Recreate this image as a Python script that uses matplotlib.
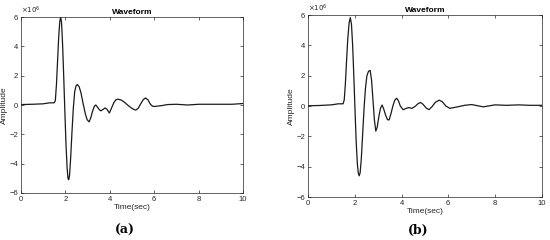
import matplotlib
matplotlib.use("Agg")
import matplotlib.pyplot as plt

plt.rcParams['font.family'] = ['Liberation Sans', 'DejaVu Sans']

# Panel (a): time (s) and amplitude (x1e6)
time_a = [0, 0.5, 1.0, 1.3, 1.5, 1.55, 1.6, 1.65, 1.7, 1.75, 1.79, 1.83, 1.88, 1.93, 1.98,
          2.03, 2.08, 2.12, 2.15, 2.19, 2.24, 2.3, 2.36, 2.42, 2.48, 2.54, 2.62, 2.7, 2.8,
          2.9, 2.98, 3.07, 3.15, 3.22, 3.3, 3.37, 3.45, 3.53, 3.6, 3.7, 3.79, 3.88, 3.98,
          4.08, 4.18, 4.27, 4.36, 4.5, 4.65, 4.8, 4.95, 5.08, 5.17, 5.28, 5.4, 5.5, 5.61,
          5.72, 5.83, 5.92, 6.0, 6.3, 6.6, 7.0, 7.5, 8.0, 8.5, 9.0, 9.5, 10.0]
amp_a = [0.03, 0.05, 0.08, 0.15, 0.15, 0.3, 1.4, 3.0, 4.6, 5.7, 6.0, 5.6, 4.0, 1.8, -0.5,
         -2.7, -4.3, -5.0, -5.1, -4.8, -3.6, -1.8, -0.2, 0.9, 1.3, 1.4, 1.25, 0.85, 0.1,
         -0.6, -1.0, -1.15, -0.85, -0.45, -0.1, 0.0, -0.15, -0.32, -0.4, -0.3, -0.2, -0.3, -0.55,
         -0.2, 0.15, 0.35, 0.4, 0.35, 0.2, 0.0, -0.18, -0.3, -0.35, -0.22, 0.1, 0.35, 0.48,
         0.35, 0.05, -0.08, -0.1, -0.05, 0.03, 0.05, 0.0, 0.05, 0.05, 0.05, 0.05, 0.1]

# Panel (b)
time_b = [0, 0.5, 1.0, 1.3, 1.5, 1.55, 1.6, 1.65, 1.7, 1.76, 1.81, 1.86, 1.91, 1.96, 2.01,
          2.06, 2.11, 2.15, 2.19, 2.23, 2.28, 2.34, 2.4, 2.46, 2.52, 2.59, 2.66, 2.72, 2.78,
          2.84, 2.9, 2.96, 3.03, 3.1, 3.17, 3.24, 3.32, 3.4, 3.47, 3.55, 3.63, 3.71, 3.79,
          3.87, 3.95, 4.07, 4.2, 4.3, 4.45, 4.6, 4.7, 4.81, 4.92, 5.05, 5.17, 5.3, 5.45,
          5.61, 5.75, 5.9, 6.07, 6.4, 6.7, 7.0, 7.5, 8.0, 8.5, 9.0, 9.5, 10.0]
amp_b = [0.02, 0.04, 0.08, 0.15, 0.15, 0.4, 1.5, 3.0, 4.4, 5.5, 5.83, 5.4, 4.0, 2.0, -0.2,
         -2.3, -3.8, -4.4, -4.6, -4.4, -3.5, -1.8, -0.1, 1.2, 2.0, 2.3, 2.35, 1.7, 0.4,
         -0.9, -1.65, -1.4, -0.7, -0.15, 0.07, -0.2, -0.6, -0.9, -0.91, -0.5, 0.0, 0.38, 0.52,
         0.35, 0.0, -0.24, -0.15, -0.1, -0.15, 0.0, 0.15, 0.24, 0.12, -0.12, -0.24, -0.05, 0.25,
         0.39, 0.28, 0.0, -0.15, -0.05, 0.05, 0.1, -0.05, 0.08, 0.05, 0.08, 0.05, 0.05]

x_ticks = [0, 2, 4, 6, 8, 10]
y_ticks = [-6, -4, -2, 0, 2, 4, 6]
panel_labels = ['(a)', '(b)']

fig = plt.figure(figsize=(5.5, 2.4), dpi=100)
rects = [[0.038, 0.196, 0.404, 0.733], [0.56, 0.179, 0.425, 0.758]]
label_pos = [(125 / 550, 1 - 230 / 240), (418 / 550, 1 - 230 / 240)]
axc = '#262626'
for rect, (t, a), lab, lp in zip(rects, [(time_a, amp_a), (time_b, amp_b)], panel_labels, label_pos):
    ax = fig.add_axes(rect)
    ax.plot(t, a, color='#1a1a1a', lw=0.9)
    ax.set_xlim(0, 10)
    ax.set_ylim(-6, 6)
    ax.set_xticks(x_ticks)
    ax.set_yticks(y_ticks)
    ax.tick_params(direction='in', top=True, right=True, length=2.5, width=0.5,
                   labelsize=5.5, pad=2, colors=axc)
    for s in ax.spines.values():
        s.set_linewidth(0.5)
        s.set_color(axc)
    ax.set_title('Waveform', fontsize=6, fontweight='bold', pad=2, color='black')
    ax.set_xlabel('Time(sec)', fontsize=6, labelpad=1, color=axc)
    ax.set_ylabel('Amplitude', fontsize=6, labelpad=1, color=axc)
    ax.text(0.0, 1.005, r'$\times 10^6$', transform=ax.transAxes, fontsize=5,
            ha='left', va='bottom', color=axc)
    fig.text(lp[0], lp[1], lab, fontsize=9, fontweight='bold', family='DejaVu Serif',
             ha='center', va='center')

fig.savefig('out.png', dpi=100)
